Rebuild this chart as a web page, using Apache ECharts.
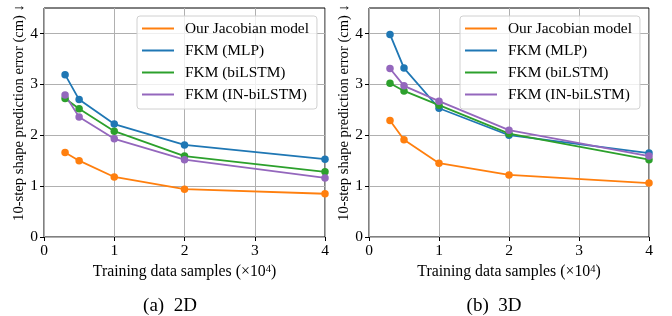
<!DOCTYPE html>
<html>
<head>
    <meta charset="utf-8">
    <style>
        body {
            margin: 0;
            background-color: #fff;
        }

        #main {
            width: 672px;
            height: 316px;
        }
    </style>
    <script src="https://cdn.jsdelivr.net/npm/echarts@6/dist/echarts.min.js"></script>
</head>
<body>
    <div id="main"></div>
    <script type="text/javascript">
        // training samples (x10^4)
        var samples = [0.3, 0.5, 1, 2, 4];
        var names = ['Our Jacobian model', 'FKM (MLP)', 'FKM (biLSTM)', 'FKM (IN-biLSTM)'];
        var colors = ['#ff7f0e', '#1f77b4', '#2ca02c', '#9467bd'];

        // (a) 2D
        var jacobian2d = [1.66, 1.50, 1.18, 0.94, 0.85];
        var mlp2d = [3.19, 2.70, 2.22, 1.81, 1.53];
        var bilstm2d = [2.72, 2.52, 2.08, 1.59, 1.28];
        var inBilstm2d = [2.79, 2.36, 1.93, 1.52, 1.16];

        // (b) 3D
        var jacobian3d = [2.29, 1.91, 1.45, 1.22, 1.06];
        var mlp3d = [3.98, 3.32, 2.53, 2.00, 1.65];
        var bilstm3d = [3.02, 2.87, 2.59, 2.03, 1.52];
        var inBilstm3d = [3.31, 2.97, 2.67, 2.10, 1.59];

        var yTicks = [0, 1, 2, 3, 4];
        var captions = ['(a)  2D', '(b)  3D'];

        var font = '"Liberation Serif", "Times New Roman", serif';

        function pairs(ys) {
            return samples.map(function (x, i) { return [x, ys[i]]; });
        }

        function xAxisFor(idx) {
            return {
                type: 'value',
                gridIndex: idx,
                min: 0,
                max: 4,
                interval: 1,
                name: '{a|Training data samples (×10}{s|4}{a|)}',
                nameLocation: 'middle',
                nameGap: 21,
                nameTextStyle: {
                    rich: {
                        a: { fontFamily: font, fontSize: 15.8, color: '#000', verticalAlign: 'top', lineHeight: 17 },
                        s: { fontFamily: font, fontSize: 10.5, color: '#000', verticalAlign: 'top', lineHeight: 9 }
                    }
                },
                axisLine: { show: false },
                axisTick: { show: true, length: 4, lineStyle: { color: '#000', width: 1 } },
                axisLabel: { fontFamily: font, fontSize: 15.5, color: '#000', margin: 6 },
                splitLine: { show: true, lineStyle: { color: '#b0b0b0', width: 1 } }
            };
        }

        function yAxisFor(idx, gap) {
            return {
                type: 'value',
                gridIndex: idx,
                min: 0,
                max: 4.5,
                interval: 1,
                name: '10-step shape prediction error (cm) ↓',
                nameLocation: 'middle',
                nameGap: gap,
                nameTextStyle: { fontFamily: font, fontSize: 14.6, color: '#000', padding: [0, 0, 0, 20] },
                axisLine: { show: false },
                axisTick: { show: true, length: 4, customValues: yTicks, lineStyle: { color: '#000', width: 1 } },
                axisLabel: { fontFamily: font, fontSize: 15.5, color: '#000', margin: 6, customValues: yTicks },
                splitLine: { show: true, lineStyle: { color: '#b0b0b0', width: 1 } }
            };
        }

        function legendAt(left) {
            return {
                left: left,
                top: 16,
                orient: 'vertical',
                icon: 'rect',
                itemWidth: 32,
                itemHeight: 2,
                itemGap: 7,
                padding: [5, 8, 7, 5],
                backgroundColor: 'rgba(255,255,255,0.8)',
                borderColor: '#d0d0d0',
                borderWidth: 1,
                borderRadius: 3,
                selectedMode: false,
                data: names,
                textStyle: { fontFamily: font, fontSize: 15.4, color: '#000', padding: [0, 0, 0, 6], lineHeight: 15 }
            };
        }

        var sets = [
            [jacobian2d, mlp2d, bilstm2d, inBilstm2d],
            [jacobian3d, mlp3d, bilstm3d, inBilstm3d]
        ];
        var series = [];
        sets.forEach(function (set, g) {
            set.forEach(function (ys, k) {
                series.push({
                    name: names[k],
                    type: 'line',
                    xAxisIndex: g,
                    yAxisIndex: g,
                    data: pairs(ys),
                    symbol: 'circle',
                    symbolSize: 7.5,
                    color: colors[k],
                    lineStyle: { width: 1.8, color: colors[k] },
                    itemStyle: { color: colors[k] }
                });
            });
        });

        var myChart = echarts.init(document.getElementById('main'));
        myChart.setOption({
            animation: false,
            grid: [
                { left: 44, top: 8, width: 281, height: 229, show: true, borderColor: '#000', borderWidth: 1 },
                { left: 369, top: 8, width: 280, height: 229, show: true, borderColor: '#000', borderWidth: 1 }
            ],
            xAxis: [xAxisFor(0), xAxisFor(1)],
            yAxis: [yAxisFor(0, 12), yAxisFor(1, 15)],
            legend: [legendAt(137), legendAt(460)],
            graphic: [
                { type: 'text', x: 170, y: 306, style: { text: captions[0], fontFamily: font, fontSize: 19, fill: '#000', align: 'center', verticalAlign: 'middle' } },
                { type: 'text', x: 494, y: 306, style: { text: captions[1], fontFamily: font, fontSize: 19, fill: '#000', align: 'center', verticalAlign: 'middle' } }
            ],
            series: series
        });
    </script>
</body>
</html>
